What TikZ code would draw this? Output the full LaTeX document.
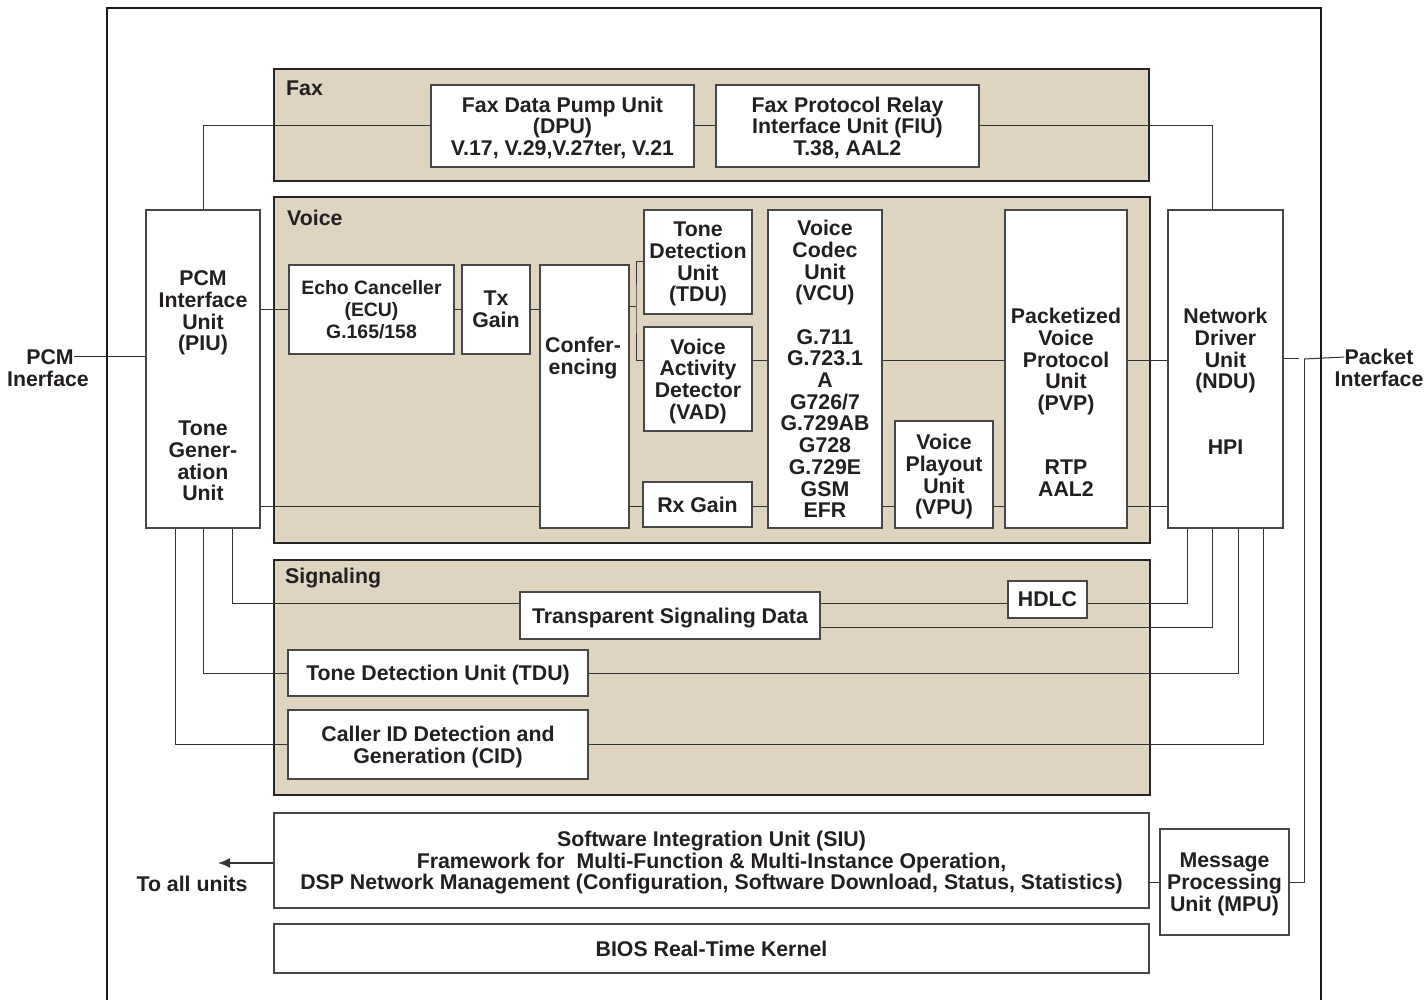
\documentclass[tikz,border=0pt]{standalone}
\usepackage{fontspec}
\setmainfont{Liberation Sans}
\usetikzlibrary{arrows.meta}
\definecolor{paneltan}{RGB}{222,212,192}
\definecolor{ink}{RGB}{35,31,32}
\newcommand\dgfont{\fontsize{21.3}{21.7}\selectfont\bfseries}
\newcommand\dgsmall{\fontsize{19.4}{21.7}\selectfont\bfseries}
\tikzset{
  panel/.style={draw=black!85, line width=1.2pt, fill=paneltan, inner sep=0pt},
  box/.style={draw=black!72, line width=1.2pt, fill=white, inner sep=0pt, align=center, font=\dgfont, text=ink, text depth=0pt},
  txt/.style={inner sep=0pt, align=center, font=\dgfont, text=ink, text depth=0pt},
  ptitle/.style={inner sep=0pt, anchor=west, font=\dgfont, text=ink},
  wire/.style={draw=black!80, line width=1pt},
}
\begin{document}
\begin{tikzpicture}[x=1pt,y=-1pt]
\useasboundingbox (0,0) rectangle (1425,1000);
% outer frame
\draw[line width=2.4pt, draw=black!90] (107,1003) -- (107,8) -- (1321,8) -- (1321,1003);

% panels
\node[panel, minimum width=875, minimum height=112] (fax) at (711.5,125) {};
\node[panel, minimum width=876, minimum height=346] (voice) at (712,370) {};
\node[panel, minimum width=876, minimum height=235] (sig) at (712,677.5) {};
\node[ptitle] (faxt) at (286,88) {Fax};
\node[ptitle] (voicet) at (287,218) {Voice};
\node[ptitle] (sigt) at (285,578) {Signaling};

% helper coordinates
\coordinate (ml) at (700,361);
\coordinate (bl) at (700,506);
\coordinate (br) at (636,307);
\coordinate (sy1) at (700,603);
\coordinate (sy2) at (700,627);
\coordinate (c175) at (175,0);
\coordinate (c232) at (232,0);
\coordinate (c1187) at (1187,0);
\coordinate (c1212) at (1212,0);
\coordinate (c1238) at (1238,0);
\coordinate (c1263) at (1263,0);
\coordinate (gapA) at (1299,359);
\coordinate (gapB) at (1304,359);
\coordinate (arrtip) at (218,863);

% fax boxes
\node[box, minimum width=263, minimum height=82] (dpu) at (562.5,126) {Fax Data Pump Unit\\(DPU)\\V.17, V.29,V.27ter, V.21};
\node[box, minimum width=263, minimum height=82] (fiu) at (847.5,126) {Fax Protocol Relay\\Interface Unit (FIU)\\T.38, AAL2};

% PIU and NDU
\node[box, minimum width=114, minimum height=318] (piu) at (203,369) {};
\node[txt] (piua) at (203,311) {PCM\\Interface\\Unit\\(PIU)};
\node[txt] (piub) at (203,461) {Tone\\Gener-\\ation\\Unit};
\node[box, minimum width=115, minimum height=318] (ndu) at (1225.5,369) {};
\node[txt] (ndua) at (1225.5,348.5) {Network\\Driver\\Unit\\(NDU)};
\node[txt] (ndub) at (1225.5,447) {HPI};

% voice boxes
\node[box, minimum width=165, minimum height=89, font=\dgsmall] (ecu) at (371.5,309.5) {Echo Canceller\\(ECU)\\G.165/158};
\node[box, minimum width=68, minimum height=89] (tx) at (496,309.5) {Tx\\Gain};
\node[box, minimum width=89, minimum height=263] (conf) at (584.5,396.5) {};
\node[txt] (conft) at (583,356) {Confer-\\encing};
\node[box, minimum width=108, minimum height=104] (tdu) at (698,262) {Tone\\Detection\\Unit\\(TDU)};
\node[box, minimum width=108, minimum height=104] (vad) at (698,379) {Voice\\Activity\\Detector\\(VAD)};
\node[box, minimum width=109, minimum height=45] (rx) at (697.5,504.5) {Rx Gain};
\node[box, minimum width=114, minimum height=318] (vcu) at (825,369) {Voice\\Codec\\Unit\\(VCU)\\[21.7pt]G.711\\G.723.1\\A\\G726/7\\G.729AB\\G728\\G.729E\\GSM\\EFR};
\node[box, minimum width=98, minimum height=107] (vpu) at (944,474.5) {Voice\\Playout\\Unit\\(VPU)};
\node[box, minimum width=122, minimum height=318] (pvp) at (1066,369) {};
\node[txt] (pvpa) at (1066,359.5) {Packetized\\Voice\\Protocol\\Unit\\(PVP)};
\node[txt] (pvpb) at (1066,478) {RTP\\AAL2};

% signaling boxes
\node[box, minimum width=79, minimum height=37] (hdlc) at (1047.5,599.5) {HDLC};
\node[box, minimum width=300, minimum height=47] (tsd) at (670,615.5) {Transparent Signaling Data};
\node[box, minimum width=300, minimum height=46] (tdus) at (438,673) {Tone Detection Unit (TDU)};
\node[box, minimum width=300, minimum height=69] (cid) at (438,744.5) {Caller ID Detection and\\Generation (CID)};

% bottom boxes
\node[box, minimum width=875, minimum height=95] (siu) at (711.5,860.5) {Software Integration Unit (SIU)\\Framework for\ \ Multi-Function \& Multi-Instance Operation,\\DSP Network Management (Configuration, Software Download, Status, Statistics)};
\node[box, minimum width=875, minimum height=49] (bios) at (711.5,948.5) {BIOS Real-Time Kernel};
\node[box, minimum width=129, minimum height=106] (mpu) at (1224.5,882) {Message\\Processing\\Unit (MPU)};

% outside labels
\node[txt] (pcma) at (50,357) {PCM};
\node[txt] (pcmb) at (48,379) {Inerface};
\node[txt] (pkta) at (1379,357) {Packet};
\node[txt] (pktb) at (1379,379) {Interface};
\node[txt] (toall) at (192,884) {To all units};

% connectors
\draw[wire] (pcma.east) -- (piu.west |- pcma.east);
\draw[wire] (piu.north) |- (dpu.west);
\draw[wire] (dpu.east) -- (fiu.west);
\draw[wire] (fiu.east) -| (c1212 |- ndu.north);
\draw[wire] (piu.east |- ecu.west) -- (ecu.west);
\draw[wire] (ecu.east) -- (tx.east -| tx.west);
\draw[wire] (tx.east) -- (conf.west |- tx.east);
\draw[wire] (conf.east |- br) -- (br);
\draw[wire] (tdu.west) -| (br) |- (vad.west |- ml);
\draw[wire] (vad.east |- ml) -- (vcu.west |- ml);
\draw[wire] (vcu.east |- ml) -- (pvp.west |- ml);
\draw[wire] (pvp.east |- ml) -- (ndu.west |- ml);
\draw[wire] (piu.east |- bl) -- (conf.west |- bl);
\draw[wire] (conf.east |- bl) -- (rx.west |- bl);
\draw[wire] (rx.east |- bl) -- (vcu.west |- bl);
\draw[wire] (vcu.east |- bl) -- (vpu.west |- bl);
\draw[wire] (vpu.east |- bl) -- (pvp.west |- bl);
\draw[wire] (pvp.east |- bl) -- (ndu.west |- bl);
\draw[wire] (ndu.east |- gapA) -- (gapA);
\draw[wire] (gapB) -- (pkta.west);
\draw[wire] (gapB) |- (mpu.east);
\draw[wire] (mpu.west -| siu.east) -- (mpu.west);
\draw[wire, line width=1.8pt, -{Latex[length=12pt,width=10pt]}] (siu.west |- arrtip) -- (arrtip);
% PIU to signaling
\draw[wire] (c232 |- piu.south) |- (tsd.west |- sy1);
\draw[wire] (piu.south) |- (tdus.west);
\draw[wire] (c175 |- piu.south) |- (cid.west);
% signaling to NDU
\draw[wire] (tsd.east |- sy1) -- (hdlc.west |- sy1);
\draw[wire] (hdlc.east |- sy1) -| (c1187 |- ndu.south);
\draw[wire] (tsd.east |- sy2) -| (c1212 |- ndu.south);
\draw[wire] (tdus.east) -| (c1238 |- ndu.south);
\draw[wire] (cid.east) -| (c1263 |- ndu.south);
\end{tikzpicture}
\end{document}
